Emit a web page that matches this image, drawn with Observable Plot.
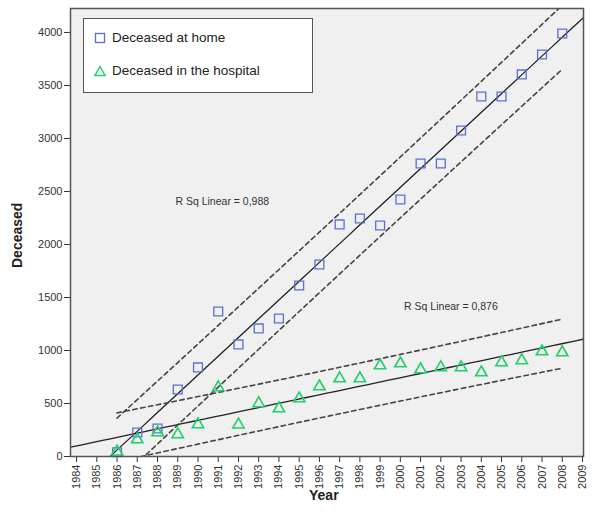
<!DOCTYPE html>
<html><head><meta charset="utf-8">
<script src="https://cdn.jsdelivr.net/npm/d3@7"></script>
<script src="https://cdn.jsdelivr.net/npm/@observablehq/plot@0.6"></script>
<style>
body{margin:0;background:#fff;font-family:"Liberation Sans",Arial,sans-serif;}
#wrap{position:relative;width:600px;height:512px;}
#legend{position:absolute;left:83px;top:18px;width:230px;height:75px;box-sizing:border-box;background:#fff;border:1px solid #555;font-size:13.5px;color:#222;}
#legend .item{position:absolute;left:10px;display:flex;align-items:center;}
#legend svg{margin-right:6px;}
#ylab{position:absolute;left:-13px;top:230px;transform:rotate(-90deg);font-weight:bold;font-size:14px;color:#222;width:60px;text-align:center;}
#xlab{position:absolute;left:309px;top:487px;font-weight:bold;font-size:14px;color:#222;}
</style></head>
<body><div id="wrap"><div id="chart"></div>
<div id="legend">
<div class="item" style="top:11px"><svg width="12" height="12"><rect x="1.5" y="1.5" width="9" height="9" fill="none" stroke="#5b6fd1" stroke-width="1.3"/></svg><span id="l1"></span></div>
<div class="item" style="top:44px"><svg width="12" height="12"><path d="M6,1.5 L11,10.5 L1,10.5Z" fill="none" stroke="#1fcf6a" stroke-width="1.5"/></svg><span id="l2"></span></div>
</div>
<div id="ylab">Deceased</div>
<div id="xlab">Year</div>
</div>
<script>
const years = d3.range(1986, 2009);
const homeValues = [40,226,264,632,840,1368,1057,1208,1302,1613,1811,2189,2245,2179,2424,2764,2764,3075,3396,3396,3604,3792,3990];
const hospitalValues = [45,160,226,208,302,651,300,500,453,547,660,736,736,858,877,821,840,840,792,887,906,990,981];
const seriesNames = ["Deceased at home","Deceased in the hospital"];
const rsqLabels = ["R Sq Linear = 0,988","R Sq Linear = 0,876"];
const rsqPos = [[1991.2,2406],[2002.5,1415]];
const yTicks = d3.range(0,4001,500);
const xTicks = d3.range(1984,2010);
const xDomain = [1983.7,2009.05];
const yDomain = [0,4226];
const tCrit = 2.080; // t(0.975, df=21)

document.getElementById("l1").textContent = seriesNames[0];
document.getElementById("l2").textContent = seriesNames[1];

function fit(xs, ys){
  const n = xs.length, xb = d3.mean(xs), yb = d3.mean(ys);
  let sxx=0, sxy=0;
  xs.forEach((x,i)=>{sxx+=(x-xb)**2; sxy+=(x-xb)*(ys[i]-yb);});
  const b = sxy/sxx, a = yb - b*xb;
  let sse=0; xs.forEach((x,i)=>{sse+=(ys[i]-(a+b*x))**2;});
  const s = Math.sqrt(sse/(n-2));
  return {a,b,s,n,xb,sxx,f:x=>a+b*x,
    hw:x=>tCrit*s*Math.sqrt(1+1/n+(x-xb)**2/sxx)};
}
const fh = fit(years, homeValues), fp = fit(years, hospitalValues);
const gx = d3.range(1986, 2008.001, 0.25);
function band(fm, sign){ return gx.map(x=>({x, y: fm.f(x)+sign*fm.hw(x)})); }
function full(fm){ return d3.range(xDomain[0], xDomain[1]+0.001, (xDomain[1]-xDomain[0])/50).map(x=>({x,y:fm.f(x)})); }

const home = years.map((x,i)=>({x, y: homeValues[i]}));
const hosp = years.map((x,i)=>({x, y: hospitalValues[i]}));
const dash = {x:"x", y:"y", stroke:"#444", strokeWidth:1.6, strokeDasharray:"4.5,3.5", clip:true};

const chart = Plot.plot({
  width:600, height:512,
  marginLeft:70, marginTop:8, marginRight:17, marginBottom:56,
  style:{fontFamily:"'Liberation Sans',Arial,sans-serif", fontSize:"11px", color:"#333", background:"#fff"},
  x:{domain:xDomain},
  y:{domain:yDomain},
  marks:[
    Plot.frame({fill:"#f0f0f0", stroke:null}),
    Plot.axisY({ticks:yTicks, tickSize:6, tickPadding:2, tickFormat:d=>String(d), label:null, fontSize:11, stroke:"#333"}),
    Plot.axisX({ticks:xTicks, tickSize:6, tickPadding:2, tickRotate:-90, tickFormat:d=>String(d), label:null, fontSize:11, stroke:"#333"}),
    Plot.line(full(fh), {x:"x", y:"y", stroke:"#222", strokeWidth:1.3, clip:true}),
    Plot.line(full(fp), {x:"x", y:"y", stroke:"#222", strokeWidth:1.3, clip:true}),
    Plot.line(band(fh,1), dash),
    Plot.line(band(fh,-1), dash),
    Plot.line(band(fp,1), dash),
    Plot.line(band(fp,-1), dash),
    Plot.dot(home, {x:"x", y:"y", symbol:"square", r:5, stroke:"#5b6fd1", strokeWidth:1.3, fill:"none"}),
    Plot.dot(hosp, {x:"x", y:"y", symbol:"triangle", r:4.2, stroke:"#1fcf6a", strokeWidth:1.6, fill:"none"}),
    Plot.text(rsqLabels.map((t,i)=>({t, x:rsqPos[i][0], y:rsqPos[i][1]})), {x:"x", y:"y", text:"t", fontSize:10.5, fill:"#333"}),
    Plot.frame({stroke:"#555", strokeWidth:1.5})
  ]
});
document.getElementById("chart").appendChild(chart);
</script></body></html>
